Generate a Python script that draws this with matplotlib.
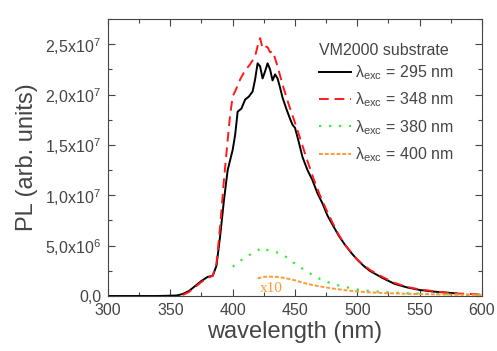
import numpy as np
import matplotlib
matplotlib.use("Agg")
import matplotlib.pyplot as plt
from matplotlib.ticker import MultipleLocator, FuncFormatter

plt.rcParams['font.family'] = ['Liberation Sans', 'DejaVu Sans']
plt.rcParams['mathtext.default'] = 'regular'

grey = '#454545'

# PL spectra (values in units of 1e6)
wl_295 = [300, 320, 340, 355, 360, 365, 370, 375, 380, 384, 387, 390, 393, 396, 398, 400, 402, 404,
          407, 410, 413, 416, 418, 420, 422, 424, 426, 428, 430, 432, 434, 436, 438, 440, 443, 446,
          448, 450, 453, 456, 460, 464, 468, 472, 476, 480, 485, 490, 495, 500, 505, 510, 520, 530,
          540, 550, 560, 570, 580]
pl_295 = [0, 0, 0, 0.05, 0.2, 0.5, 1.0, 1.5, 1.9, 2.0, 3.0, 6.0, 9.5, 12.5, 13.5, 14.5, 16.0, 18.3,
          18.6, 19.5, 19.8, 20.3, 21.5, 23.1, 22.8, 21.6, 22.3, 23.1, 22.5, 21.4, 22.0, 21.6, 20.7, 19.7,
          18.6, 17.6, 17.0, 16.7, 15.3, 13.8, 12.5, 11.5, 10.2, 9.2, 8.0, 7.1, 6.0, 5.1, 4.3, 3.6, 3.0,
          2.5, 1.8, 1.2, 0.85, 0.6, 0.45, 0.35, 0.25]

wl_348 = [360, 365, 370, 375, 380, 384, 387, 390, 393, 396, 398, 400, 403, 406, 410, 414, 418, 420,
          422, 424, 426, 428, 430, 432, 434, 436, 440, 445, 450, 455, 460, 465, 470, 475, 480, 485,
          490, 500, 510, 520, 530, 540, 550, 560, 570, 580, 590, 600]
pl_348 = [0.1, 0.4, 0.9, 1.4, 1.8, 2.0, 3.2, 7.0, 11.5, 15.5, 18.0, 19.8, 20.6, 21.5, 22.4, 23.0,
          23.8, 24.8, 25.6, 24.6, 24.8, 24.7, 24.2, 24.3, 23.6, 22.8, 21.0, 19.0, 17.2, 15.3, 13.4,
          11.6, 10.0, 8.6, 7.3, 6.1, 5.1, 3.6, 2.6, 1.9, 1.3, 0.9, 0.65, 0.5, 0.35, 0.25, 0.2, 0.15]

wl_380 = [400, 405, 410, 415, 420, 423, 426, 430, 435, 440, 445, 450, 455, 460, 465, 470, 475, 480,
          490, 500, 510, 520, 530, 540, 550, 560, 570, 580, 590, 600]
pl_380 = [2.9, 3.4, 3.8, 4.2, 4.5, 4.8, 4.6, 4.5, 4.35, 4.1, 3.7, 3.2, 2.8, 2.4, 2.0, 1.7, 1.45, 1.2,
          0.9, 0.65, 0.5, 0.4, 0.33, 0.27, 0.23, 0.2, 0.18, 0.16, 0.14, 0.12]

wl_400 = [420, 425, 430, 435, 440, 445, 450, 460, 470, 480, 490, 500, 510, 520, 530, 540, 550, 560,
          570, 580, 590, 600]
pl_400 = [1.75, 1.9, 1.92, 1.9, 1.82, 1.7, 1.55, 1.2, 0.95, 0.75, 0.58, 0.45, 0.36, 0.3, 0.26, 0.22,
          0.19, 0.17, 0.15, 0.13, 0.12, 0.1]

fig = plt.figure(figsize=(4.97, 3.51), dpi=100)
ax = fig.add_axes([0.2173, 0.1567, 0.7525, 0.7892])

ax.plot(wl_295, np.array(pl_295) * 1e6, color='black', lw=1.4,
        label=r'$\lambda_{exc}$ = 295 nm')
ax.plot(wl_348, np.array(pl_348) * 1e6, color='#ff1a1a', lw=1.4, dashes=(5, 3),
        label=r'$\lambda_{exc}$ = 348 nm')
ax.plot(wl_380, np.array(pl_380) * 1e6, color='#33ee33', lw=1.6, dashes=(1, 3.5),
        label=r'$\lambda_{exc}$ = 380 nm')
ax.plot(wl_400, np.array(pl_400) * 1e6, color='#ff9933', lw=1.4, dashes=(2, 1),
        label=r'$\lambda_{exc}$ = 400 nm')

ax.text(422, 0.75e6, 'x10', color='#ff9933', family='Liberation Serif', fontsize=11,
        va='center', ha='left')

ax.set_xlim(300, 600)
ax.set_ylim(0, 2.75e7)
ax.xaxis.set_major_locator(MultipleLocator(50))
ax.xaxis.set_minor_locator(MultipleLocator(25))
ax.yaxis.set_major_locator(MultipleLocator(5e6))
ax.yaxis.set_minor_locator(MultipleLocator(2.5e6))


def yfmt(v, pos):
    if v <= 0:
        return '0,0' if abs(v) < 1 else ''
    e = int(np.floor(np.log10(v)))
    m = v / 10 ** e
    return ('%.1f' % m).replace('.', ',') + 'x10$^{%d}$' % e


ax.yaxis.set_major_formatter(FuncFormatter(yfmt))
ax.tick_params(which='both', direction='in', top=True, right=True, colors=grey,
               labelcolor=grey, labelsize=11.5)
ax.tick_params(which='major', length=5, width=0.8, pad=5)
ax.tick_params(which='minor', length=3, width=0.8)
for s in ax.spines.values():
    s.set_color(grey)

ax.set_xlabel('wavelength (nm)', fontsize=17, color=grey, labelpad=2)
ax.set_ylabel('PL (arb. units)', fontsize=17, color=grey, labelpad=5)

leg = ax.legend(loc='upper left', bbox_to_anchor=(0.565, 0.915), frameon=False,
                title='VM2000 substrate', fontsize=11.5, title_fontsize=11.5,
                handlelength=2.0, handletextpad=0.25, labelspacing=0.55,
                alignment='left', borderaxespad=0, borderpad=0)
leg._legend_box.sep = 4
plt.setp(leg.get_texts(), color=grey)
leg.get_title().set_color(grey)

fig.savefig('out.png', dpi=100)
